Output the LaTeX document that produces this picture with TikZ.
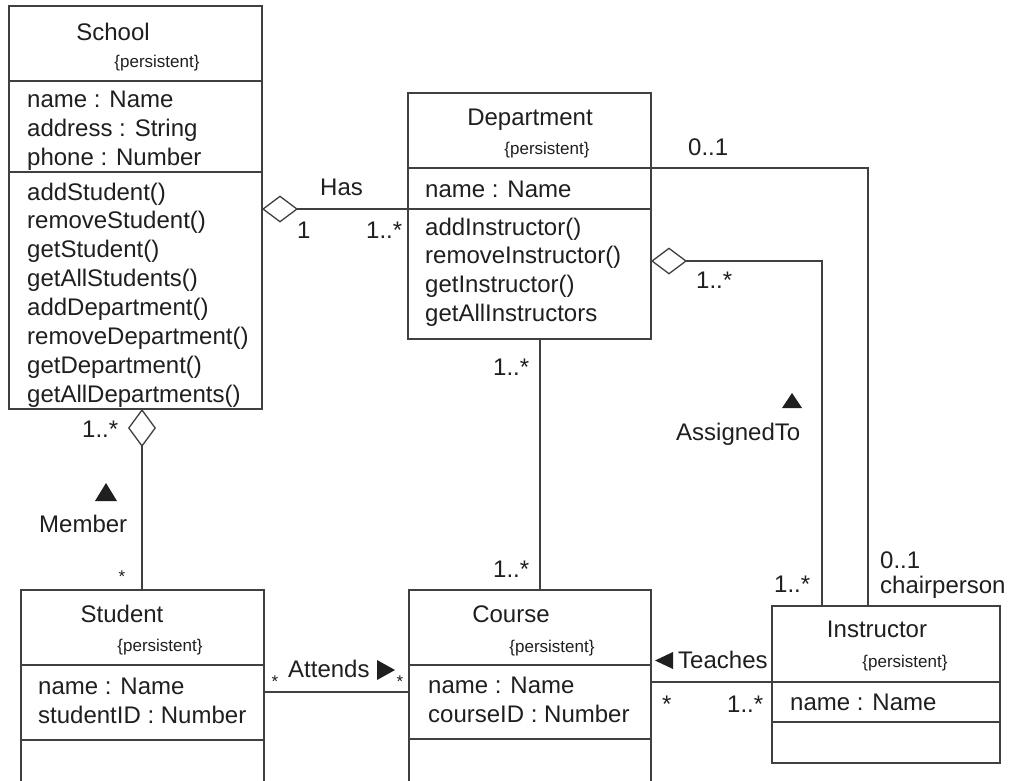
\documentclass[tikz,border=0pt]{standalone}
\usepackage{fontspec}
\setmainfont{Liberation Sans}
\usetikzlibrary{arrows.meta}
\definecolor{ln}{gray}{0.25}
\definecolor{tx}{gray}{0.12}
\begin{document}
\begin{tikzpicture}[x=1pt,y=-1pt,
  cls/.style={draw=ln, line width=1.3pt, rectangle, inner sep=0pt, outer sep=0pt, anchor=north west},
  tl/.style={font=\fontsize{24}{28}\selectfont, text=tx, inner sep=0pt, anchor=base west},
  tc/.style={tl, anchor=base},
  pers/.style={font=\fontsize{17}{20}\selectfont, text=tx, inner sep=0pt, anchor=base},
  smallstar/.style={font=\fontsize{17}{20}\selectfont, text=tx, inner sep=0pt, anchor=center},
  sep/.style={draw=ln, line width=1.3pt},
  conn/.style={draw=ln, line width=1.3pt, line join=miter},
  agg/.style={conn, {Diamond[open, length=36pt, width=27pt]}-},
  aggv/.style={conn, {Diamond[open, length=38pt, width=28pt]}-},
  tri/.style={fill=tx, draw=none}
]
\useasboundingbox (0,0) rectangle (1010,780);
\clip (0,0) rectangle (1010,780);
\fill[white] (0,0) rectangle (1010,780);

% ---------- classes ----------
\node[cls, minimum width=253pt, minimum height=403pt] (school) at (9,6) {};
\draw[sep] ([yshift=-75pt]school.north west) -- ([yshift=-75pt]school.north east);
\draw[sep] ([yshift=-166pt]school.north west) -- ([yshift=-166pt]school.north east);

\node[cls, minimum width=243pt, minimum height=246pt] (dept) at (408,93) {};
\draw[sep] ([yshift=-75pt]dept.north west) -- ([yshift=-75pt]dept.north east);
\draw[sep] ([yshift=-116pt]dept.north west) -- ([yshift=-116pt]dept.north east);

\node[cls, minimum width=243pt, minimum height=210pt] (student) at (21,590) {};
\draw[sep] ([yshift=-75pt]student.north west) -- ([yshift=-75pt]student.north east);
\draw[sep] ([yshift=-150pt]student.north west) -- ([yshift=-150pt]student.north east);

\node[cls, minimum width=242pt, minimum height=210pt] (course) at (409,590) {};
\draw[sep] ([yshift=-75pt]course.north west) -- ([yshift=-75pt]course.north east);
\draw[sep] ([yshift=-149pt]course.north west) -- ([yshift=-149pt]course.north east);

\node[cls, minimum width=228pt, minimum height=157pt] (instr) at (772,606) {};
\draw[sep] ([yshift=-76pt]instr.north west) -- ([yshift=-76pt]instr.north east);
\draw[sep] ([yshift=-116pt]instr.north west) -- ([yshift=-116pt]instr.north east);

% ---------- class texts ----------
\node[tc] (schoolT) at (113,40) {School};
\node[pers] (schoolP) at (157,67) {\{persistent\}};
\node[tl] (sa1) at (27,107) {name : Name};
\node[tl] (sa2) at (27,136) {address : String};
\node[tl] (sa3) at (27,165) {phone : Number};
\foreach \t [count=\i from 0] in {addStudent(),removeStudent(),getStudent(),getAllStudents(),addDepartment(),removeDepartment(),getDepartment(),getAllDepartments()}
  \node[tl] (sm\i) at (27,{200+28.9*\i}) {\t};

\node[tc] (deptT) at (530,125) {Department};
\node[pers] (deptP) at (547,154) {\{persistent\}};
\node[tl] (da1) at (425,197) {name : Name};
\foreach \t [count=\i from 0] in {addInstructor(),removeInstructor(),getInstructor(),getAllInstructors}
  \node[tl] (dm\i) at (425,{235+28.8*\i}) {\t};

\node[tc] (studentT) at (122,622) {Student};
\node[pers] (studentP) at (160,651) {\{persistent\}};
\node[tl] (sta1) at (38,694) {name : Name};
\node[tl] (sta2) at (38,723) {studentID : Number};

\node[tc] (courseT) at (511,622) {Course};
\node[pers] (courseP) at (552,652) {\{persistent\}};
\node[tl] (ca1) at (428,693) {name : Name};
\node[tl] (ca2) at (428,722) {courseID : Number};

\node[tc] (instrT) at (877,637) {Instructor};
\node[pers] (instrP) at (905,667) {\{persistent\}};
\node[tl] (ia1) at (790,710) {name : Name};

% ---------- connectors ----------
\draw[agg] ([yshift=-203pt]school.north east) -- ([yshift=-116pt]dept.north west);
\draw[aggv] ([xshift=133pt]school.south west) -- ([xshift=121pt]student.north west);
\draw[conn] ([xshift=132pt]dept.south west) -- ([xshift=131pt]course.north west);
\draw[conn] ([yshift=-75pt]dept.north east) -| ([xshift=96pt]instr.north west);
\draw[agg] ([yshift=-168pt]dept.north east) -| ([xshift=50pt]instr.north west);
\draw[conn] ([yshift=-102pt]student.north east) -- ([yshift=-102pt]course.north west);
\draw[conn] ([yshift=-92pt]course.north east) -- ([yshift=-76pt]instr.north west);

% ---------- association labels ----------
\node[tl] (hasL) at (320,195) {Has};
\node[tl] (has1) at (297,238) {1};
\node[tl] (has2) at (366,238) {1..*};

\node[tl] (mem1) at (82,437) {1..*};
\fill[tri] (95,501) -- (117,501) -- (106,483) -- cycle;
\node[tl] (memL) at (39,532) {Member};
\node[smallstar] (mem2) at (122,577) {*};

\node[tl] (dc1) at (493,375) {1..*};
\node[tl] (dc2) at (493,577) {1..*};

\node[tl] (ch1) at (688,155) {0..1};
\node[tl] (ch2) at (880,568) {0..1};
\node[tl] (ch3) at (880,593) {chairperson};

\node[tl] (as1) at (696,288) {1..*};
\fill[tri] (782,408) -- (802,408) -- (792,393) -- cycle;
\node[tl] (asL) at (676,440) {AssignedTo};
\node[tl] (as2) at (774,592) {1..*};

\node[smallstar] (at1) at (275,682) {*};
\node[tl] (atL) at (288,677) {Attends};
\fill[tri] (377,660) -- (377,680) -- (395,670) -- cycle;
\node[smallstar] (at2) at (400,682) {*};

\fill[tri] (673,652) -- (673,669) -- (655,660.5) -- cycle;
\node[tl] (teL) at (678,668) {Teaches};
\node[tl] (te1) at (662,712) {*};
\node[tl] (te2) at (727,712) {1..*};
\end{tikzpicture}
\end{document}
